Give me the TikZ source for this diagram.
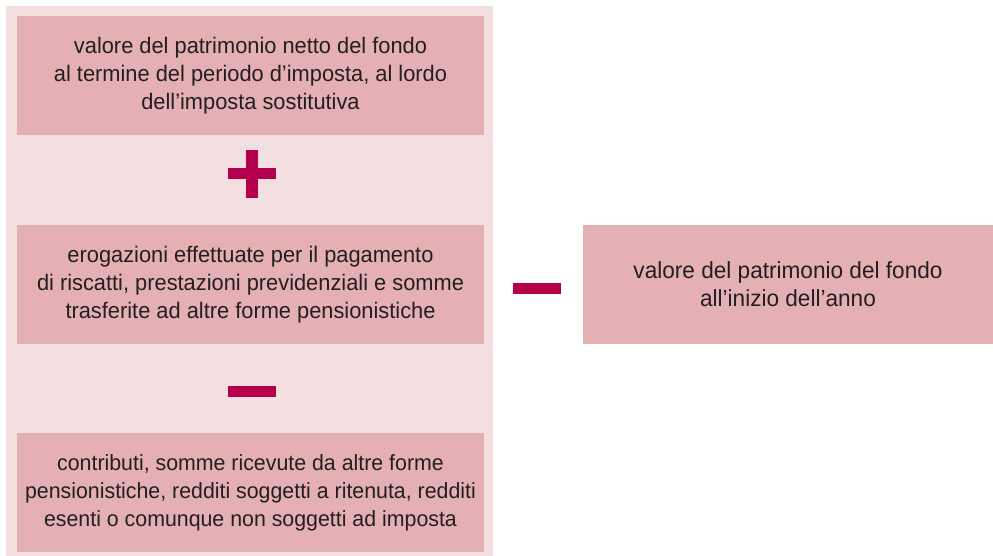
\documentclass[tikz,border=0pt]{standalone}
\usepackage{fontspec}
\setmainfont[FakeStretch=0.97]{Liberation Sans}
\definecolor{panel}{HTML}{F3DFDF}
\definecolor{boxfill}{HTML}{E5B0B3}
\definecolor{sign}{HTML}{B5004E}
\definecolor{txt}{HTML}{231F20}
\begin{document}
\begin{tikzpicture}[x=1pt,y=-1pt,
  box/.style={fill=boxfill,draw=none,minimum width=467pt,minimum height=119pt,inner sep=0pt,
    align=center,text=txt,font=\fontsize{22.5}{28}\selectfont},
  rbox/.style={box,minimum width=410pt,font=\fontsize{23.3}{28}\selectfont}]
\useasboundingbox (0,0) rectangle (993,556);
\fill[panel] (6,6) rectangle (493,556);
\node[box] (a) at (250.5,75.5) {valore del patrimonio netto del fondo\\al termine del periodo d’imposta, al lordo\\dell’imposta sostitutiva};
\node[box] (b) at (250.5,284.5) {erogazioni effettuate per il pagamento\\di riscatti, prestazioni previdenziali e somme\\trasferite ad altre forme pensionistiche};
\node[box,font=\fontsize{22}{28}\selectfont] (c) at (250.5,492.5) {contributi, somme ricevute da altre forme\\pensionistiche, redditi soggetti a ritenuta, redditi\\esenti o comunque non soggetti ad imposta};
\node[rbox] (d) at (788,284.5) {valore del patrimonio del fondo\\all’inizio dell’anno};
% plus
\fill[sign] (228,168) rectangle (276,179);
\fill[sign] (246,150) rectangle (258,198);
% minus between b and c
\fill[sign] (228,386) rectangle (276,397);
% minus between panel and d
\fill[sign] (513,283) rectangle (561,294);
\end{tikzpicture}
\end{document}
